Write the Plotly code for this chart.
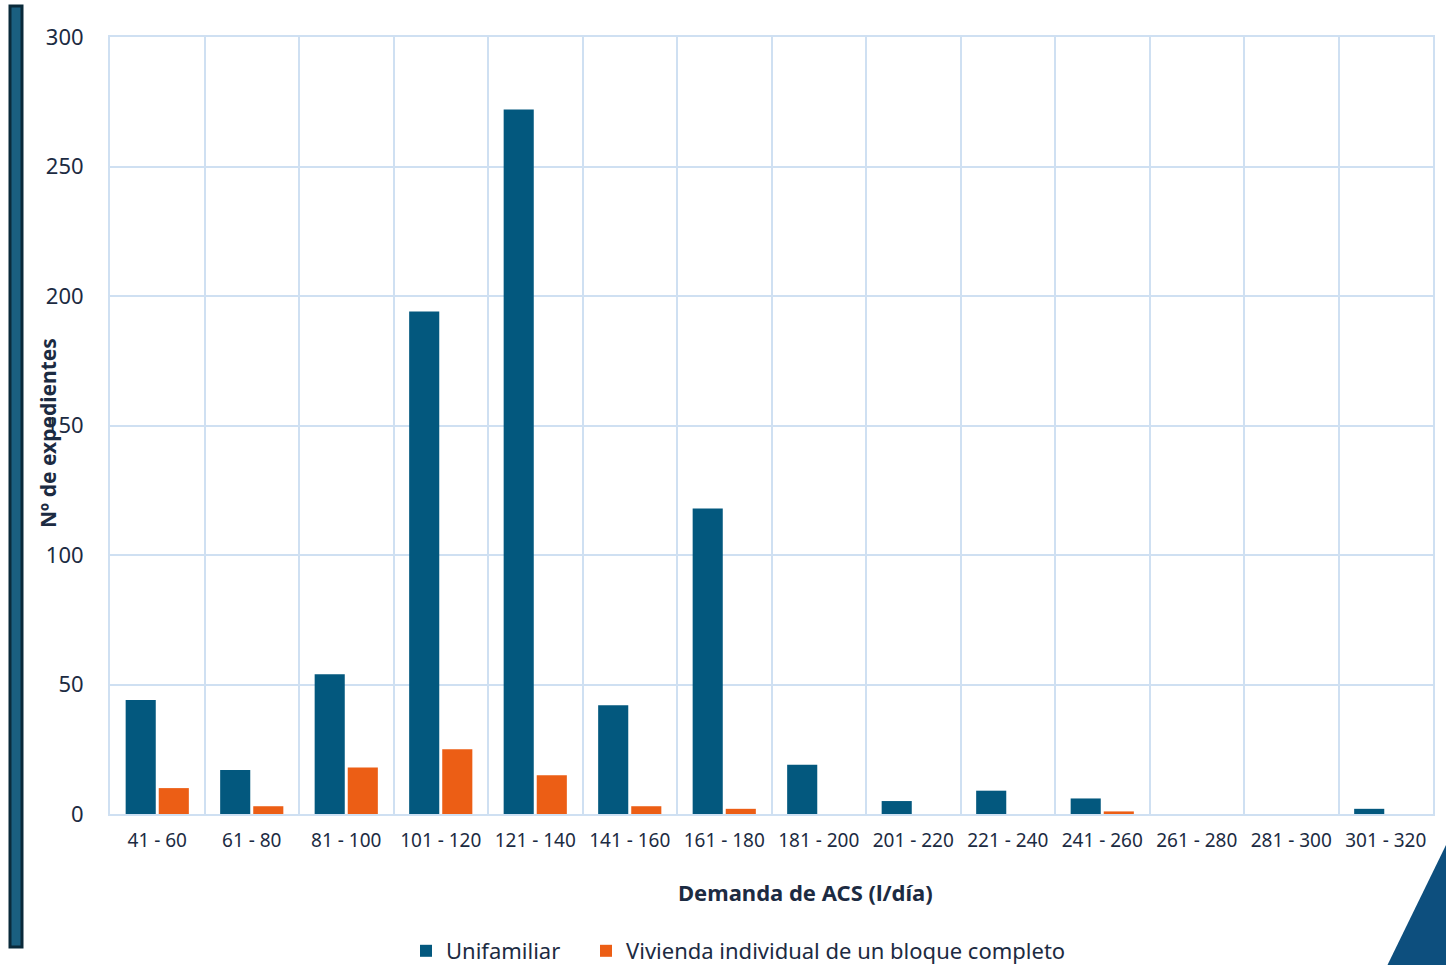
import plotly.graph_objects as go

categories = ["41 - 60", "61 - 80", "81 - 100", "101 - 120", "121 - 140", "141 - 160",
              "161 - 180", "181 - 200", "201 - 220", "221 - 240", "241 - 260",
              "261 - 280", "281 - 300", "301 - 320"]
unifamiliar = [44, 17, 54, 194, 272, 42, 118, 19, 5, 9, 6, 0, 0, 2]
vivienda_bloque = [10, 3, 18, 25, 15, 3, 2, 0, 0, 0, 1, 0, 0, 0]
y_ticks = [0, 50, 100, 150, 200, 250, 300]

W, H = 1446, 965
L, R, T, B = 110, 13, 37, 151
pw, ph = W - L - R, H - T - B

def px(x):
    return (x - L) / pw

def py(y):
    return (H - B - y) / ph

FONT = "Noto Sans"
TXT = "#1c2b42"
GRID = "#cfe0f2"

fig = go.Figure()
fig.add_trace(go.Bar(x=categories, y=unifamiliar, name="Unifamiliar", legend="legend",
                     marker=dict(color="#03587e", line=dict(width=0))))
fig.add_trace(go.Bar(x=categories, y=vivienda_bloque, name="Vivienda individual de un bloque completo",
                     legend="legend2",
                     marker=dict(color="#ec5e15", line=dict(width=0))))

legend_style = dict(orientation="h", xref="container", yref="container",
                    xanchor="left", y=1 - 951 / H, yanchor="middle",
                    font=dict(size=22, color=TXT), itemwidth=30, tracegroupgap=0,
                    bgcolor="rgba(0,0,0,0)")

fig.update_layout(
    width=W, height=H,
    margin=dict(l=L, r=R, t=T, b=B, autoexpand=False),
    paper_bgcolor="white", plot_bgcolor="white",
    barmode="group", bargap=0.30, bargroupgap=0.09,
    font=dict(family=FONT, color=TXT, size=19),
    showlegend=True,
    legend=dict(x=406 / W, **legend_style),
    legend2=dict(x=586 / W, **legend_style),
    xaxis=dict(tickson="boundaries", showgrid=True, gridcolor=GRID, gridwidth=2,
               showline=True, mirror=True, linecolor=GRID, linewidth=2,
               ticks="", tickfont=dict(size=19, color=TXT), ticklabelstandoff=8,
               automargin=False),
    yaxis=dict(range=[0, 300], tickvals=y_ticks, showgrid=True, gridcolor=GRID, gridwidth=2,
               showline=True, mirror=True, linecolor=GRID, linewidth=2, zeroline=False,
               ticks="", tickfont=dict(size=22, color=TXT), ticklabelstandoff=20,
               automargin=False),
    annotations=[
        dict(text="<b>Nº de expedientes</b>", xref="paper", yref="paper",
             x=px(48), y=py(433), textangle=-90, showarrow=False,
             font=dict(size=21, color=TXT), xanchor="center", yanchor="middle"),
        dict(text="<b>Demanda de ACS (l/día)</b>", xref="paper", yref="paper",
             x=px(806), y=py(892), showarrow=False,
             font=dict(size=22, color=TXT), xanchor="center", yanchor="middle"),
    ],
    shapes=[
        dict(type="rect", xref="paper", yref="paper",
             x0=px(10), x1=px(22), y0=py(947), y1=py(6),
             fillcolor="#1a5f80", line=dict(color="#0a2a3a", width=3), layer="above"),
        dict(type="path", xref="paper", yref="paper",
             path=f"M {px(1387)} {py(966)} L {px(1447)} {py(843)} L {px(1447)} {py(966)} Z",
             fillcolor="#0d4f7e", line=dict(width=0), layer="above"),
    ],
)

post = ("document.documentElement.style.margin='0px';"
        "document.documentElement.style.overflow='hidden';"
        "document.body.style.margin='0px';"
        "document.body.style.overflow='hidden';")
fig.write_html("out.html", config={"displayModeBar": False}, post_script=post)
